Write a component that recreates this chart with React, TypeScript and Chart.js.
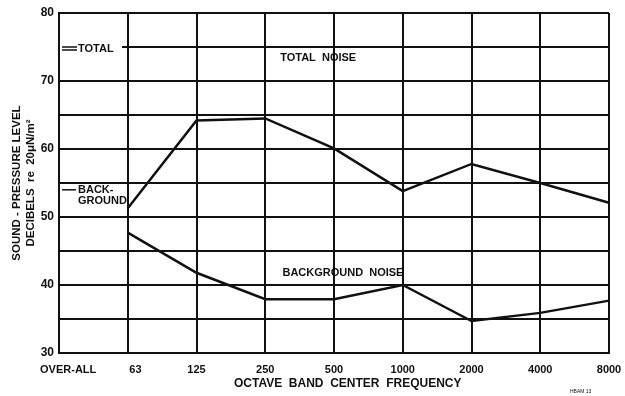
import React, { useEffect, useRef } from "react";
import { Chart, registerables } from "chart.js";

Chart.register(...registerables);

const categories = ["OVER-ALL", "63", "125", "250", "500", "1000", "2000", "4000", "8000"];
const totalNoise = [null, 51.3, 64.2, 64.5, 60.1, 53.8, 57.8, 55.0, 52.1];
const backgroundNoise = [null, 47.7, 41.8, 37.9, 37.9, 40.0, 34.7, 35.9, 37.7];
const overallTotal = 75;
const overallBackground = 54;
const yLabelTicks = [30, 40, 50, 60, 70, 80];
const yTitle = ["SOUND - PRESSURE LEVEL", "DECIBELS  re  20\u03BCN/m\u00B2"];
const xTitle = "OCTAVE  BAND  CENTER  FREQUENCY";
const seriesLabels = ["TOTAL  NOISE", "BACKGROUND  NOISE"];
const seriesLabelPos = [
  { x: 3.77, y: 73.4 },
  { x: 4.13, y: 41.8 },
];

const FONT = "'Liberation Sans', Arial, sans-serif";
const INK = "#111";

const annotations = {
  id: "annotations",
  afterDatasetsDraw(chart: any) {
    const { ctx, scales } = chart;
    const xs = scales.x;
    const ys = scales.y;
    ctx.save();
    ctx.fillStyle = INK;
    ctx.strokeStyle = INK;
    ctx.textBaseline = "middle";
    ctx.font = `bold 11px ${FONT}`;
    ctx.textAlign = "center";
    seriesLabels.forEach((t, i) => {
      const p = seriesLabelPos[i];
      ctx.fillText(t, xs.getPixelForValue(p.x), ys.getPixelForValue(p.y));
    });

    // x-axis title
    ctx.font = `bold 12px ${FONT}`;
    ctx.fillText(xTitle, xs.getPixelForValue(4.2), chart.height - 12);

    // Over-all markers
    const x0 = xs.getPixelForValue(0);
    const yT = ys.getPixelForValue(overallTotal);
    ctx.fillStyle = "#fff";
    ctx.fillRect(x0 + 1, yT - 2, 62, 4);
    ctx.fillStyle = INK;
    ctx.lineWidth = 1.5;
    ctx.beginPath();
    ctx.moveTo(x0 + 3, yT);
    ctx.lineTo(x0 + 18, yT);
    ctx.moveTo(x0 + 3, yT + 3);
    ctx.lineTo(x0 + 18, yT + 3);
    ctx.stroke();
    ctx.textAlign = "left";
    ctx.font = `bold 11px ${FONT}`;
    ctx.fillText("TOTAL", x0 + 19, yT + 2);

    const yB = ys.getPixelForValue(overallBackground);
    ctx.beginPath();
    ctx.moveTo(x0 + 3, yB);
    ctx.lineTo(x0 + 17, yB);
    ctx.stroke();
    ctx.fillText("BACK-", x0 + 19, yB);
    ctx.fillText("GROUND", x0 + 19, yB + 11);

    ctx.font = `5px ${FONT}`;
    ctx.textAlign = "left";
    ctx.fillText("HBAM 13", 570, chart.height - 4);
    ctx.restore();
  },
};

export default function App() {
  const ref = useRef<HTMLCanvasElement>(null);

  useEffect(() => {
    document.body.style.margin = "0";
    const canvas = ref.current!;
    const chart = new Chart(canvas, {
      type: "line",
      data: {
        labels: categories,
        datasets: [
          {
            label: "Total noise",
            data: totalNoise,
            borderColor: INK,
            borderWidth: 2.5,
            pointRadius: 0,
            tension: 0,
            spanGaps: false,
          },
          {
            label: "Background noise",
            data: backgroundNoise,
            borderColor: INK,
            borderWidth: 2.5,
            pointRadius: 0,
            tension: 0,
            spanGaps: false,
          },
        ],
      },
      options: {
        responsive: false,
        animation: false,
        layout: { padding: { left: 0, right: 16, top: 13, bottom: 0 } },
        plugins: {
          legend: { display: false },
          tooltip: { enabled: false },
        },
        scales: {
          x: {
            type: "category",
            offset: false,
            grid: { color: INK, lineWidth: 2, drawTicks: false, offset: false },
            border: { color: INK, width: 2 },
            ticks: {
              color: INK,
              padding: 10,
              maxRotation: 0,
              autoSkip: false,
              font: { family: FONT, size: 11, weight: "bold" },
              callback: (v: any, i: number) =>
                i === 0 ? "      " + categories[i] : i === 1 ? "     " + categories[i] : categories[i],
            },
            afterFit: (s: any) => {
              s.height = 43;
              s.paddingLeft = 0;
              s.paddingRight = 0;
            },
          },
          y: {
            min: 30,
            max: 80,
            grid: { color: INK, lineWidth: 2, drawTicks: false },
            border: { color: INK, width: 2 },
            ticks: {
              stepSize: 5,
              color: INK,
              padding: 5,
              font: { family: FONT, size: 12, weight: "bold" },
              callback: (v: any) => (yLabelTicks.includes(Number(v)) ? String(v) : ""),
            },
            title: {
              display: true,
              text: yTitle,
              color: INK,
              font: { family: FONT, size: 11.5, weight: "bold" },
              padding: { top: 10, bottom: 0 },
            },
            afterFit: (s: any) => {
              s.width = 59;
            },
          },
        },
      },
      plugins: [annotations],
    });
    return () => chart.destroy();
  }, []);

  return <canvas ref={ref} width={625} height={396} style={{ display: "block" }} />;
}
